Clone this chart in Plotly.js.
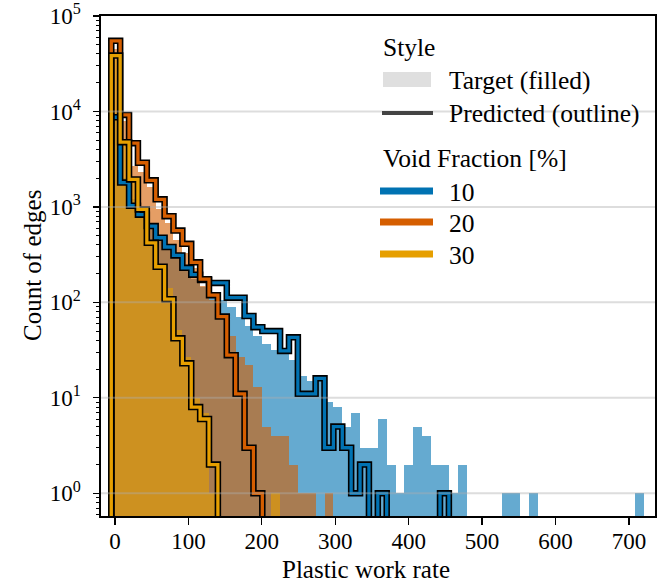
<!DOCTYPE html>
<html><head><meta charset="utf-8">
<script src="https://cdn.plot.ly/plotly-3.0.1.min.js"></script>
<style>html,body{margin:0;padding:0;background:#fff;}#chart{width:670px;height:586px;}</style>
</head><body>
<div id="chart"></div>
<script>
// Histogram bins (shared by all series)
const binStart = -5;
const binWidth = 12.1;

const seriesLabels = ['10', '20', '30'];
const seriesColors = ['#0072B2', '#D55E00', '#E69F00'];

// Target (filled) counts per bin
const target10 = [9000,2000,1200,900,650,450,380,300,220,175,145,120,105,90,70,56,44,37,32,30,25,17,15,15,9,8,5,7,3,3,6,2,1,2,5,4,2,2,1,2,0,0,0,0,1,1,0,1,0,0,0,0,0,0,0,0,0,0,0,1];
const target20 = [45000,8000,2700,2300,1600,950,680,450,330,230,150,105,72,44,27,22,13,5,4,4,2,1,1,0,1,0,0,0,0,0,0,0,0,0,0,0,0,0,0,0,0,0,0,0,0,0,0,0,0,0,0,0,0,0,0,0,0,0,0,0];
const target30 = [35000,4500,1900,950,430,250,140,51,27,10,7,1,0,0,0,0,0,0,1,0,0,0,0,0,0,0,0,0,0,0,0,0,0,0,0,0,0,0,0,0,0,0,0,0,0,0,0,0,0,0,0,0,0,0,0,0,0,0,0,0];
// Predicted (outline) counts per bin
const pred10 = [8700,1800,1030,830,630,475,380,310,230,195,172,160,160,112,112,72,55,50,50,31,43,11,11,16,3,5,3,1,2,0,1,0,0,0,0,0,0,1,0,0,0,0,0,0,0,0,0,0,0,0,0,0,0,0,0,0,0,0,0,0];
const pred20 = [55000,9200,4650,2900,1900,1200,800,565,410,263,175,119,71,28,11,3,1,0,0,0,0,0,0,0,0,0,0,0,0,0,0,0,0,0,0,0,0,0,0,0,0,0,0,0,0,0,0,0,0,0,0,0,0,0,0,0,0,0,0,0];
const pred30 = [38500,4770,1940,942,421,236,108,42,23,8,6,2,0,0,0,0,0,0,0,0,0,0,0,0,0,0,0,0,0,0,0,0,0,0,0,0,0,0,0,0,0,0,0,0,0,0,0,0,0,0,0,0,0,0,0,0,0,0,0,0];

const xTicks = [0,100,200,300,400,500,600,700];
const yDecades = [0,1,2,3,4,5];

const targets = [target10, target20, target30];
const preds = [pred10, pred20, pred30];

const nBins = target10.length;
const edges = [];
for (let i = 0; i <= nBins; i++) edges.push(binStart + i * binWidth);
const centers = edges.slice(0, -1).map(e => e + binWidth / 2);
const FLOOR = 1e-3;

const FONT = 'Liberation Serif';
const traces = [];

targets.forEach((counts, s) => {
  traces.push({
    type: 'bar', x: centers, y: counts.map(c => c > 0 ? c : null),
    width: binWidth, marker: {color: seriesColors[s], line: {width: 0}},
    opacity: 0.6, showlegend: false, hoverinfo: 'skip'
  });
});

function stepXY(counts) {
  const xs = [edges[0]], ys = [FLOOR];
  counts.forEach((c, i) => { xs.push(edges[i]); ys.push(c > 0 ? c : FLOOR); });
  xs.push(edges[nBins]); ys.push(FLOOR);
  return {xs, ys};
}
preds.forEach((counts, s) => {
  const {xs, ys} = stepXY(counts);
  traces.push({type: 'scatter', mode: 'lines', x: xs, y: ys,
    line: {color: '#000', width: 6.5, shape: 'hv'}, showlegend: false, hoverinfo: 'skip'});
  traces.push({type: 'scatter', mode: 'lines', x: xs, y: ys,
    line: {color: seriesColors[s], width: 3.3, shape: 'hv'}, showlegend: false, hoverinfo: 'skip'});
});

const L = 101, R = 15, T = 16, B = 70, W = 670, H = 586;
const pw = W - L - R, ph = H - T - B;
const px2x = p => (p - L) / pw;
const py2y = p => (H - B - p) / ph;

const shapes = [];
yDecades.slice(0, -1).forEach(k => {
  shapes.push({type: 'line', xref: 'paper', yref: 'y', x0: 0, x1: 1, y0: Math.pow(10, k), y1: Math.pow(10, k),
    line: {color: 'rgba(175,175,175,0.42)', width: 2}, layer: 'above'});
});

const annotations = [];
function legText(txt, px, py) {
  annotations.push({xref: 'paper', yref: 'paper', x: px2x(px), y: py2y(py), text: txt, showarrow: false,
    xanchor: 'left', yanchor: 'middle', font: {family: FONT, size: 25.5, color: '#000'}});
}
legText('Style', 381, 47);
shapes.push({type: 'rect', xref: 'paper', yref: 'paper', x0: px2x(383), x1: px2x(431), y0: py2y(72), y1: py2y(87),
  fillcolor: '#dfdfdf', line: {width: 0}, layer: 'above'});
legText('Target (filled)', 447, 80);
shapes.push({type: 'line', xref: 'paper', yref: 'paper', x0: px2x(382), x1: px2x(433), y0: py2y(113), y1: py2y(113),
  line: {color: '#444', width: 4}, layer: 'above'});
legText('Predicted (outline)', 447, 114);
legText('Void Fraction [%]', 381, 158);
const legY = [191, 222, 254];
seriesLabels.forEach((lab, s) => {
  shapes.push({type: 'line', xref: 'paper', yref: 'paper', x0: px2x(380), x1: px2x(433), y0: py2y(legY[s]), y1: py2y(legY[s]),
    line: {color: seriesColors[s], width: 7}, layer: 'above'});
  legText(lab, 447, legY[s] + 1);
});

// axis titles
annotations.push({xref: 'paper', yref: 'paper', x: px2x(366), y: py2y(569), text: 'Plastic work rate', showarrow: false,
  xanchor: 'center', yanchor: 'middle', font: {family: FONT, size: 25, color: '#000'}});
annotations.push({xref: 'paper', yref: 'paper', x: px2x(32), y: py2y(266), text: 'Count of edges', showarrow: false,
  textangle: -90, xanchor: 'center', yanchor: 'middle', font: {family: FONT, size: 25, color: '#000'}});

const minorVals = [];
for (let k = -1; k < 5; k++) for (let m = 2; m <= 9; m++) minorVals.push(m * Math.pow(10, k));

const layout = {
  width: W, height: H,
  margin: {l: L, r: R, t: T, b: B},
  paper_bgcolor: '#fff', plot_bgcolor: '#fff',
  barmode: 'overlay', bargap: 0, showlegend: false,
  font: {family: FONT, size: 23, color: '#000'},
  xaxis: {
    range: [-19, 735.5], tickmode: 'array', tickvals: xTicks, ticktext: xTicks.map(String),
    ticks: 'outside', ticklen: 7, tickwidth: 1.3, tickcolor: '#000',
    showline: true, linecolor: '#000', linewidth: 1.6, mirror: true,
    showgrid: false, zeroline: false, ticklabelstandoff: -3,
    tickfont: {family: FONT, size: 23, color: '#000'}
  },
  yaxis: {
    type: 'log', range: [-0.238, 5], tickmode: 'array',
    tickvals: yDecades.map(k => Math.pow(10, k)), ticktext: yDecades.map(k => '10<sup>' + k + '</sup>'),
    ticks: 'outside', ticklen: 6, tickwidth: 1.3, tickcolor: '#000',
    minor: {tickmode: 'array', tickvals: minorVals, ticks: 'outside', ticklen: 3.5, tickwidth: 1, tickcolor: '#000', showgrid: false},
    showline: true, linecolor: '#000', linewidth: 1.6, mirror: true,
    showgrid: false, zeroline: false, ticklabelstandoff: 8,
    tickfont: {family: FONT, size: 23, color: '#000'}
  },
  shapes: shapes, annotations: annotations
};

const config = {displayModeBar: false, staticPlot: true};
Plotly.newPlot('chart', traces, layout, config);
if (document.fonts && document.fonts.load) {
  document.fonts.load('24px "Liberation Serif"').then(() => Plotly.react('chart', traces, layout, config)).catch(() => {});
}
</script></body></html>
